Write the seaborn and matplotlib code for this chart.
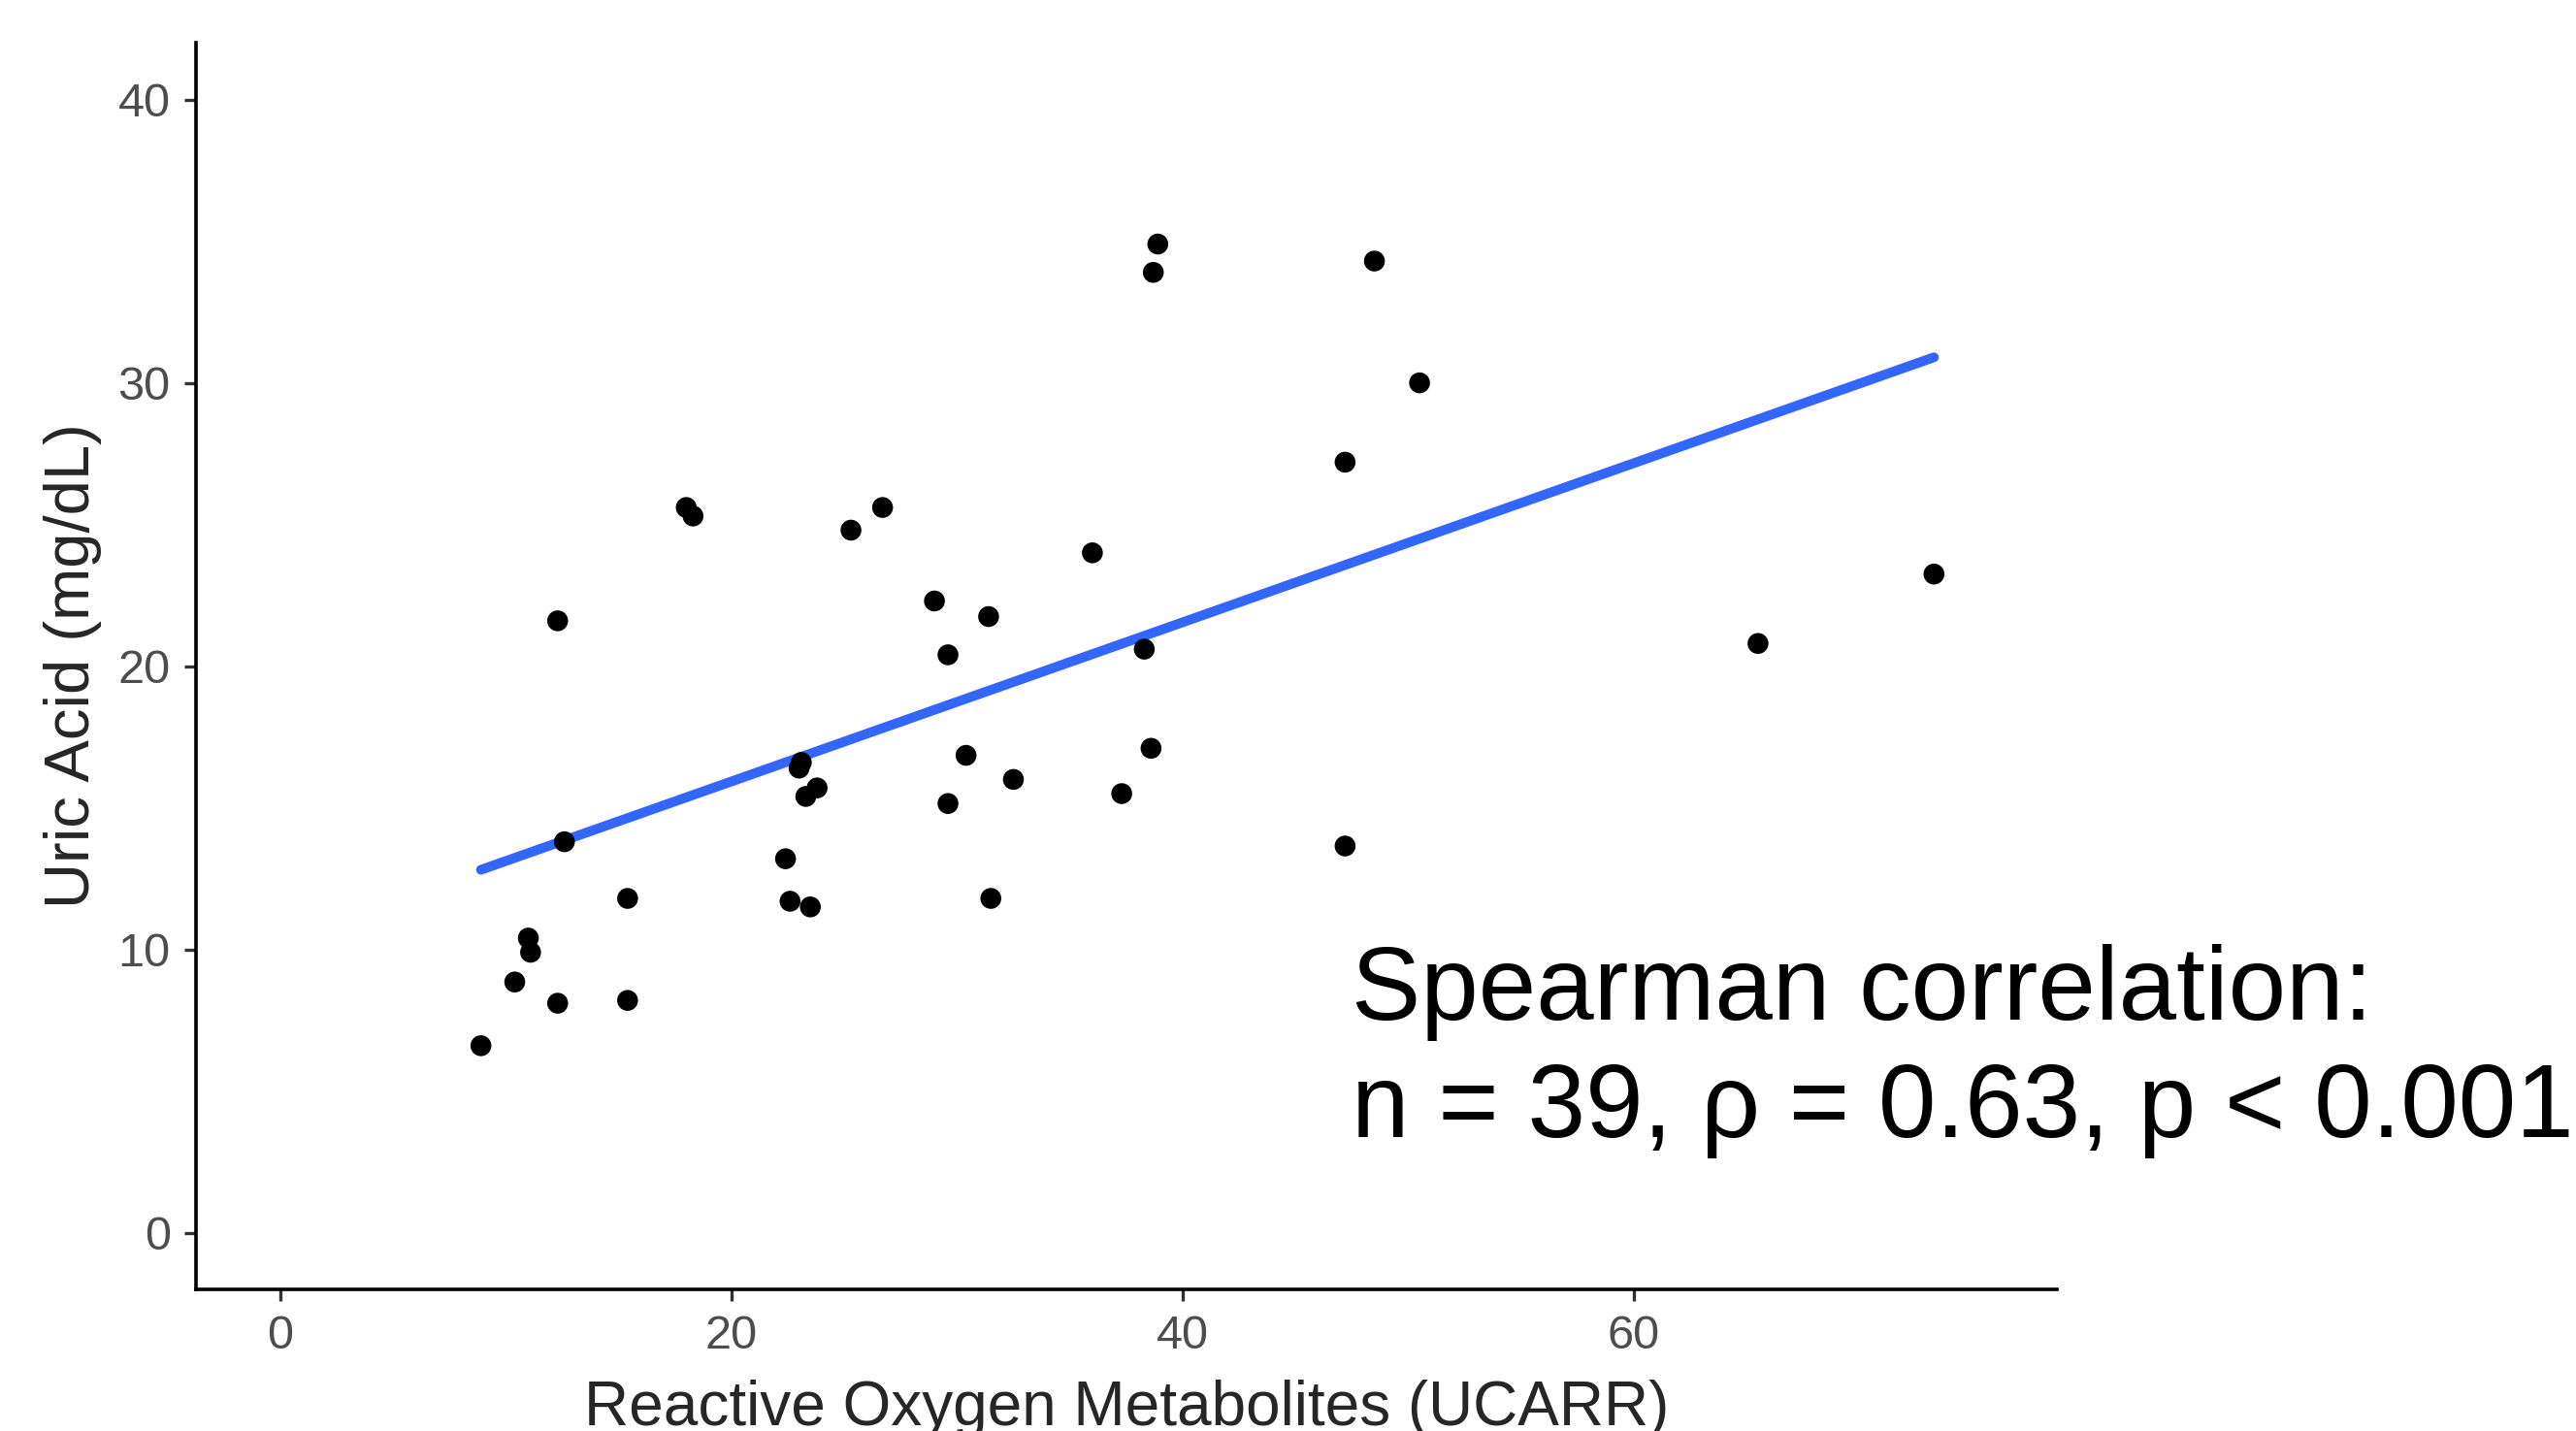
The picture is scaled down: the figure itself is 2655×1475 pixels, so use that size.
import matplotlib
matplotlib.use("Agg")
import matplotlib.pyplot as plt
import pandas as pd
import seaborn as sns

# Reactive oxygen metabolites (x) and uric acid (y)
rom = [8.9, 10.4, 12.3, 15.4, 11.0, 11.1, 15.4, 12.6, 12.3, 18.0,
       18.3, 22.4, 22.6, 23.5, 23.1, 23.0, 23.8, 23.3, 25.3, 26.7,
       29.0, 29.6, 31.4, 30.4, 29.6, 32.5, 31.5, 36.0, 38.3, 38.6,
       37.3, 38.9, 38.7, 48.5, 50.5, 47.2, 65.5, 73.3, 47.2]
uric_acid = [6.6, 8.85, 8.1, 8.2, 10.4, 9.9, 11.8, 13.8, 21.6, 25.6,
             25.3, 13.2, 11.7, 11.5, 16.6, 16.4, 15.7, 15.4, 24.8, 25.6,
             22.3, 20.4, 21.75, 16.85, 15.15, 16.0, 11.8, 24.0, 20.6, 17.1,
             15.5, 34.9, 33.9, 34.3, 30.0, 27.2, 20.8, 23.25, 13.65]

x_ticks = [0, 20, 40, 60]
y_ticks = [0, 10, 20, 30, 40]
annotation = "Spearman correlation:\nn = 39, \u03c1 = 0.63, p < 0.001"

df = pd.DataFrame({"rom": rom, "uric_acid": uric_acid})

sns.set_style("ticks")
plt.rcParams["font.family"] = ["Liberation Sans", "DejaVu Sans"]

fig = plt.figure(figsize=(13.275, 7.375), dpi=200)
ax = fig.add_axes([0.0759, 0.099, 0.7226, 0.871])

# linear fit without confidence band, like geom_smooth(method = "lm", se = FALSE)
sns.regplot(data=df, x="rom", y="uric_acid", scatter=False, ci=None,
            color="#3366FF", line_kws={"linewidth": 3.6}, ax=ax)
sns.scatterplot(data=df, x="rom", y="uric_acid", color="black", s=60,
                edgecolor="none", ax=ax, zorder=3)

ax.set_xlim(-3.75, 78.75)
ax.set_ylim(-2, 42)
ax.set_xticks(x_ticks)
ax.set_yticks(y_ticks)
ax.tick_params(axis="both", labelsize=17.5, labelcolor="#4D4D4D", color="#333333",
               length=4.3, width=1.2)
ax.tick_params(axis="x", pad=5)
ax.tick_params(axis="y", pad=5)
for side in ["top", "right"]:
    ax.spines[side].set_visible(False)
for side in ["left", "bottom"]:
    ax.spines[side].set_color("black")
    ax.spines[side].set_linewidth(1.3)

ax.set_xlabel("Reactive Oxygen Metabolites (UCARR)", fontsize=23, labelpad=8)
ax.set_ylabel("Uric Acid (mg/dL)", fontsize=23.5, labelpad=6)

ax.text(47.5, 3.36, annotation, fontsize=38.5, color="black", ha="left",
        va="baseline", linespacing=1.27, clip_on=False)

plt.savefig("out.png", dpi=200)
